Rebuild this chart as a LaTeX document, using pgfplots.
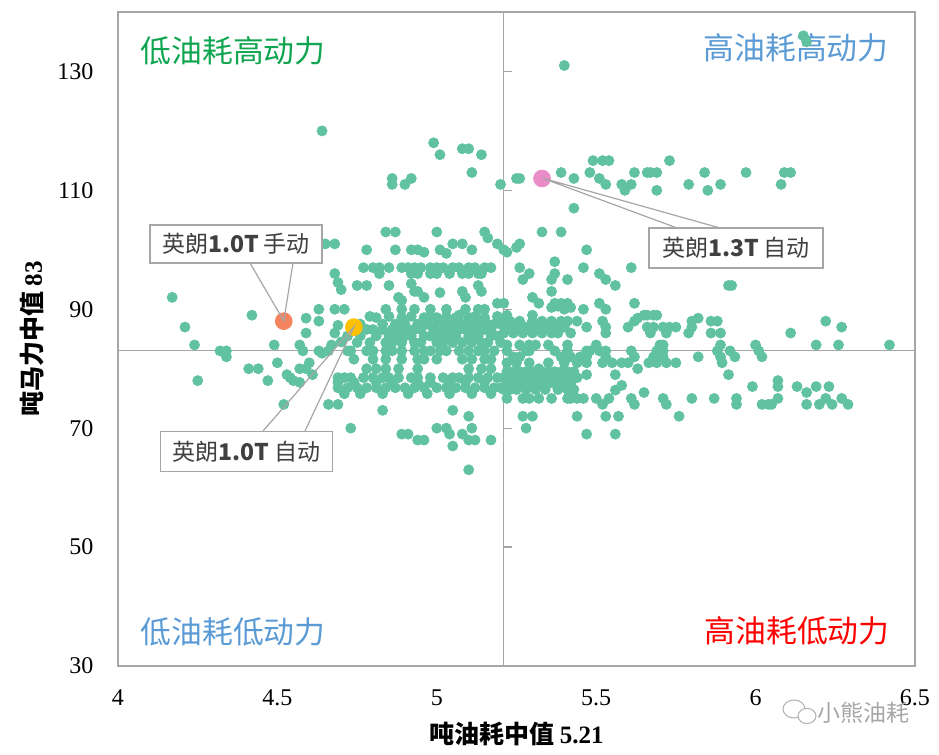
\documentclass[border=0pt]{standalone}
\usepackage{pgfplots}
\pgfplotsset{compat=1.18}
\usepackage{pgfplotstable}
\usepackage{fontspec}
\setmainfont{Liberation Serif}
\newfontfamily\cjk{Noto Sans CJK SC}
\definecolor{ptgreen}{RGB}{96,194,160}
\definecolor{qgreen}{RGB}{16,165,80}
\definecolor{qblue}{RGB}{91,155,213}
\definecolor{qred}{RGB}{255,0,0}
\definecolor{ptorange}{RGB}{244,132,95}
\definecolor{ptyellow}{RGB}{255,192,0}
\definecolor{ptpink}{RGB}{233,140,200}
\definecolor{axgray}{RGB}{166,166,166}
\definecolor{txtgray}{RGB}{64,64,64}
\pgfplotstableread{
x y
6.15 136
6.16 135
5.40 131
4.64 120
4.99 118
5.01 116
5.08 117
5.10 117
5.14 116
5.11 113
4.86 112
4.92 112
4.86 111
4.90 111
5.20 111
5.25 112
5.26 112
5.39 113
5.43 112
5.43 107
5.48 113
5.51 112
5.53 111
5.49 115
5.52 115
5.54 115
5.58 111
5.59 110
5.61 111
5.62 113
5.66 113
5.67 113
5.69 113
5.69 110
5.73 115
5.79 111
5.84 113
5.85 110
5.89 111
5.97 113
6.08 111
6.09 113
6.11 113
4.65 101
4.68 101
4.84 103
4.87 103
5.00 103
5.15 103
5.16 102
4.78 100
4.87 100
4.92 100
4.94 100
4.96 99.6
5.01 100
5.03 99.4
5.05 101
5.08 101
5.11 100
5.19 101
5.21 100
4.77 97
4.80 97
4.82 97
4.85 97
4.89 97
4.91 97
4.93 97
4.95 97
4.98 97
5.00 97
5.02 97
5.05 97
5.07 97
5.10 97
5.12 97
5.15 97
5.17 97
4.68 96
4.82 96
4.92 96
4.94 96
4.98 96
5.00 96
5.04 96
5.08 96
5.10 96
5.13 96
5.14 96
4.69 94.5
4.70 93.3
4.75 94
4.78 94
4.85 94
4.92 94.3
5.13 94
4.93 93
4.94 93
5.08 93
5.14 93
4.88 92
4.96 92
5.09 92
5.01 92.8
4.89 91.5
5.19 91
5.21 91
4.63 90
4.68 90
4.71 90
4.84 90
4.89 90
4.93 90
4.98 90
5.03 90
5.09 90
5.13 90
5.15 90
4.17 92
4.21 87
4.24 84
4.25 78
4.32 83
4.34 83
4.34 82
4.41 80
4.44 80
4.42 89
4.49 84
4.50 81
4.47 78
4.52 74
4.53 79
4.54 78.5
4.57 84
4.58 83
4.57 80
4.59 80
4.60 81
4.55 78
4.57 77.7
4.59 86
4.63 88
4.59 88.5
4.63 83
4.64 82.6
4.66 74
4.69 74
4.68 86
4.69 87.3
4.61 79
4.67 84
4.70 84.5
4.72 83
4.79 88.8
4.81 88.6
4.85 88.8
4.89 88.6
4.92 88.8
4.96 88.6
4.98 88.8
5.00 88.6
5.03 88.8
5.06 88.6
5.07 89
5.10 88.6
5.12 88.8
5.15 88.6
5.19 88.8
4.76 87.5
4.83 87.5
4.87 87.5
4.90 87.5
4.94 87.5
4.97 87.5
5.00 87.5
5.02 87.5
5.05 87.5
5.08 87.5
5.11 87.5
5.13 87.5
5.16 87.5
5.18 87.5
5.20 87.5
4.78 86.6
4.80 86.6
4.83 86.6
4.86 86.6
4.88 86.6
4.91 86.6
4.93 86.6
4.95 86.6
4.99 86.6
5.01 86.6
5.04 86.6
5.07 86.6
5.09 86.6
5.12 86.6
5.15 86.6
5.17 86.6
4.72 85.5
4.76 85.5
4.81 85.5
4.85 85.5
4.87 85.5
4.90 85.5
4.92 85.5
4.96 85.5
4.98 85.5
5.00 85.5
5.03 85.5
5.06 85.5
5.10 85.5
5.13 85.5
5.17 85.5
5.19 85.5
4.75 84.4
4.79 84.4
4.84 84.4
4.86 84.4
4.89 84.4
4.93 84.4
4.95 84.4
5.00 84.4
5.02 84.4
5.05 84.4
5.08 84.4
5.11 84.4
5.14 84.4
5.16 84.4
5.20 84.4
4.66 83
4.73 83
4.78 83
4.80 83
4.84 83
4.86 83
4.89 83
4.93 83
4.96 83
4.98 83
5.01 83
5.03 83
5.07 83
5.10 83
5.13 83
5.15 83
5.18 83
4.74 81.6
4.80 81.6
4.84 81.6
4.89 81.6
4.94 81.6
4.96 81.6
5.00 81.6
5.08 81.6
5.11 81.6
5.15 81.6
5.17 81.6
4.78 80
4.81 80
4.84 80
4.88 80
4.94 80
5.10 80
5.14 80
5.17 80
4.69 78.5
4.71 78.5
4.73 78.5
4.77 78.5
4.80 78.5
4.83 78.5
4.85 78.5
4.88 78.5
4.92 78.5
4.94 78.5
4.98 78.5
5.02 78.5
5.05 78.5
5.07 78.5
5.10 78.5
5.13 78.5
5.16 78.5
5.19 78.5
4.69 77.7
4.74 77.7
4.81 77.7
4.86 77.7
4.94 77.7
4.98 77.7
5.04 77.7
5.09 77.7
5.15 77.7
4.69 76.8
4.72 76.8
4.75 76.8
4.78 76.8
4.81 76.8
4.84 76.8
4.87 76.8
4.90 76.8
4.93 76.8
4.96 76.8
5.00 76.8
5.03 76.8
5.06 76.8
5.09 76.8
5.12 76.8
5.15 76.8
5.18 76.8
5.20 76.8
4.71 75.8
4.76 75.8
4.83 75.8
4.91 75.8
4.97 75.8
5.04 75.8
5.11 75.8
5.17 75.8
4.83 73
4.73 70
4.89 69
4.91 69
4.94 68
4.96 68
5.00 70
5.03 70
5.04 69
5.05 67
5.05 73
5.10 72
5.08 69
5.10 68
5.12 68
5.17 68
5.11 70
5.10 63
5.33 103
5.39 103
5.47 100
5.22 99.6
5.25 100.4
5.26 101
5.26 97
5.27 95
5.29 96
5.37 98
5.37 96
5.36 95
5.41 95
5.46 97
5.51 96
5.53 95
5.56 94
5.61 97
5.36 93
5.30 92
5.32 91
5.915 94
5.925 94
5.62 91
5.36 90.3
5.38 90.5
5.40 90
5.42 90.3
5.46 90
5.51 91
5.53 90
5.30 89
5.65 89
5.66 89
5.68 89
5.69 89
5.37 91
5.39 91
5.41 91
5.22 89
5.21 88
5.23 88
5.26 88
5.30 88
5.33 88
5.36 88
5.39 88
5.41 88
5.44 88
5.52 88
5.62 88
5.63 88.5
5.82 88.5
5.80 88
5.86 88
5.88 88
6.22 88
5.22 87
5.25 87
5.28 87
5.31 87
5.34 87
5.37 87
5.40 87
5.47 87
5.53 87
5.60 87
5.66 87
5.68 87
5.71 87
5.73 87
5.75 87
5.80 87
6.27 87
5.21 86
5.24 86
5.27 86
5.30 86
5.33 86
5.36 86
5.38 86
5.42 86
5.53 86
5.67 86
5.72 86
5.79 86
5.86 86
5.89 86
6.11 86
5.22 84
5.26 84
5.29 84
5.31 84
5.35 84
5.41 84
5.50 84
5.70 84
5.71 84
5.89 84
6.00 84
6.19 84
6.26 84
6.42 84
5.22 83
5.28 83
5.29 83
5.37 83
5.41 83
5.47 83
5.48 83
5.51 83
5.53 83
5.61 83
5.69 83
5.71 83
5.88 83
5.92 83
6.01 83
5.24 82
5.26 82
5.39 82
5.42 82
5.45 82
5.47 82
5.53 82
5.62 82
5.68 82
5.71 82
5.82 82
5.89 82
5.935 82
6.02 82
5.22 81
5.25 81
5.29 81
5.35 81
5.40 81
5.44 81
5.47 81
5.52 81
5.55 81
5.58 81
5.60 81
5.665 81
5.69 81
5.72 81
5.75 81
5.895 81
5.32 80
5.63 80
5.22 79.5
5.24 79.5
5.26 79.5
5.28 79.5
5.30 79.5
5.33 79.5
5.35 79.5
5.37 79.5
5.39 79.5
5.41 79.5
5.43 79.5
5.47 79
5.56 79
5.915 79
5.21 78.5
5.23 78.5
5.25 78.5
5.27 78.5
5.29 78.5
5.31 78.5
5.34 78.5
5.36 78.5
5.38 78.5
5.40 78.5
5.42 78.5
5.44 78.5
6.07 78
5.22 77.5
5.24 77.5
5.27 77.5
5.30 77.5
5.33 77.5
5.35 77.5
5.37 77.5
5.39 77.5
5.42 77.5
5.58 77.2
5.99 77
6.07 77
6.13 77
6.19 77
6.23 77
5.21 76.5
5.23 76.5
5.25 76.5
5.28 76.5
5.31 76.5
5.34 76.5
5.38 76.5
5.41 76.5
5.43 76.5
5.56 76.4
5.65 76
6.16 76
5.22 75
5.27 75
5.29 75
5.32 75
5.36 75
5.41 75
5.42 75
5.44 75
5.46 75
5.50 75
5.54 75
5.61 75
5.71 75
5.80 75
5.87 75
5.94 75
6.07 75
6.22 75
6.27 75
5.52 74
5.62 74
5.72 74
5.94 74
6.02 74
6.04 74
6.05 74
6.16 74
6.20 74
6.24 74
6.29 74
5.27 72
5.30 72
5.44 72
5.53 72
5.57 72
5.76 72
5.28 70
5.47 69
5.56 69
}\greendata
\begin{document}
\begin{tikzpicture}
\path[use as bounding box] (-59pt,-44.5pt) rectangle (410.5pt,333pt);
\begin{axis}[
  at={(0pt,0pt)}, anchor=south west,
  scale only axis, width=398.5pt, height=327pt,
  xmin=4, xmax=6.5, ymin=30, ymax=140,
  xtick={4,4.5,5,5.5,6,6.5}, ytick={30,50,70,90,110,130},
  xticklabels={4,4.5,5,5.5,6,6.5},
  major tick length=0pt, tick style={draw=none},
  axis line style={draw=axgray, line width=0.6pt},
  /pgf/number format/assume math mode=true,
  ticklabel style={font=\fontsize{12}{14}\selectfont, text=black},
  yticklabel style={xshift=-8.8pt},
  xticklabel style={yshift=-8.3pt},
  clip=false,
]
\node[font=\fontsize{15.4}{18}\selectfont\cjk, text=qgreen] at (4.361,133.5) {低油耗高动力};
\node[font=\fontsize{15.4}{18}\selectfont\cjk, text=qblue] at (6.127,133.9) {高油耗高动力};
\node[font=\fontsize{15.4}{18}\selectfont\cjk, text=qblue] at (4.361,35.7) {低油耗低动力};
\node[font=\fontsize{15.4}{18}\selectfont\cjk, text=qred] at (6.13,36.0) {高油耗低动力};
\draw[axgray, line width=0.6pt] (5.21,30) -- (5.21,140);
\draw[axgray, line width=0.6pt] (4,83) -- (6.5,83);
\pgfplotsinvokeforeach{30,50,70,90,110,130}{\draw[axgray, line width=0.6pt] (5.21,#1) -- ++(4pt,0pt);}
\pgfplotsinvokeforeach{4.5,5,5.5,6}{\draw[axgray, line width=0.6pt] (#1,83) -- ++(0pt,4pt);}
\addplot[only marks, mark=*, mark size=2.5pt, color=ptgreen] table {\greendata};
\addplot[only marks, mark=*, mark size=4.2pt, color=ptorange] coordinates {(4.52,88)};
\addplot[only marks, mark=*, mark size=4.2pt, color=ptyellow] coordinates {(4.74,87)};
\addplot[only marks, mark=*, mark size=4.2pt, color=ptpink] coordinates {(5.33,112)};
\end{axis}
% leader lines and call-outs
\draw[axgray, line width=0.6pt] (66pt,201.5pt) -- (82.9pt,172.5pt) -- (87.5pt,201.5pt);
\draw[axgray, line width=0.6pt] (72.5pt,117.5pt) -- (118pt,169.6pt) -- (93.5pt,117.5pt);
\draw[axgray, line width=0.6pt] (279.5pt,219pt) -- (212pt,244pt) -- (301pt,219pt);
\node[draw=axgray, fill=white, line width=0.6pt, minimum width=86pt, minimum height=19pt, inner sep=0pt, text=txtgray, font=\fontsize{11.5}{13}\selectfont\cjk] at (59pt,211pt) {英朗{\bfseries 1.0T} 手动};
\node[draw=axgray, fill=white, line width=0.6pt, minimum width=86pt, minimum height=20pt, inner sep=0pt, text=txtgray, font=\fontsize{11.5}{13}\selectfont\cjk] at (64.4pt,107.3pt) {英朗{\bfseries 1.0T} 自动};
\node[draw=axgray, fill=white, line width=0.6pt, minimum width=87pt, minimum height=20pt, inner sep=0pt, text=txtgray, font=\fontsize{11.5}{13}\selectfont\cjk] at (309pt,209pt) {英朗{\bfseries 1.3T} 自动};
% axis titles
\node[font=\fontsize{12.5}{14}\selectfont\cjk\bfseries] at (199.25pt,-34pt) {吨油耗中值 {\rmfamily\bfseries 5.21}};
\node[rotate=90, font=\fontsize{12.5}{14}\selectfont\cjk\bfseries] at (-42.75pt,163.5pt) {吨马力中值 {\rmfamily\bfseries 83}};
% watermark
\draw[gray!60, line width=0.5pt, fill=white] (338pt,-21.5pt) ellipse (5.5pt and 4.5pt);
\draw[gray!60, line width=0.5pt, fill=white] (344.5pt,-25pt) ellipse (4.5pt and 3.8pt);
\node[font=\fontsize{11.5}{13}\selectfont\cjk, text=gray!70] at (372.5pt,-23.5pt) {小熊油耗};
\end{tikzpicture}
\end{document}
